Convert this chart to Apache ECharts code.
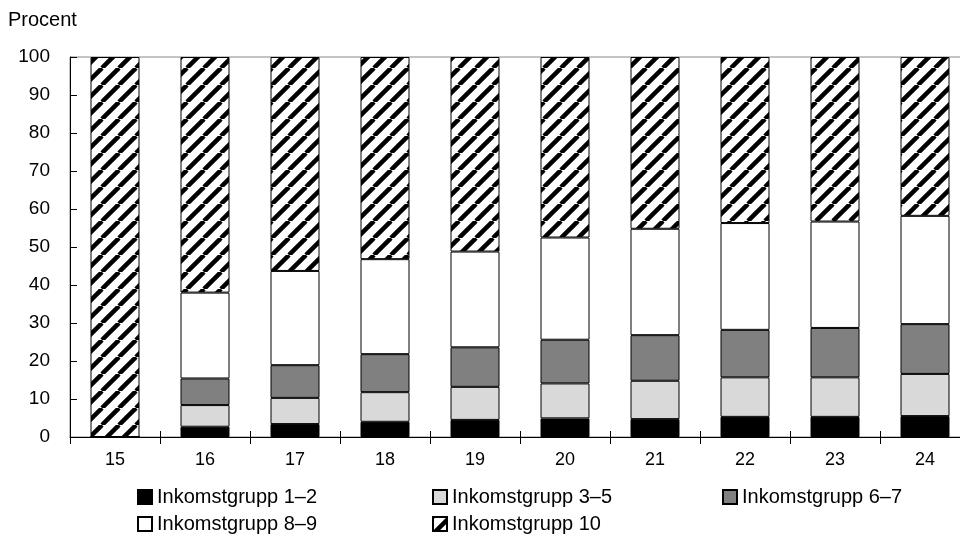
<!DOCTYPE html>
<html>
<head>
<meta charset="utf-8">
<script src="https://cdn.jsdelivr.net/npm/echarts@6/dist/echarts.min.js"></script>
<style>
html,body{margin:0;padding:0;background:#fff;overflow:hidden;width:960px;height:545px;}
#chart{width:971px;height:545px;}
</style>
</head>
<body>
<div id="chart"></div>
<script>
const categories = ['15','16','17','18','19','20','21','22','23','24'];
const seriesNames = ['Inkomstgrupp 1–2','Inkomstgrupp 3–5','Inkomstgrupp 6–7','Inkomstgrupp 8–9','Inkomstgrupp 10'];
const g12 = [0, 2.7, 3.4, 4.0, 4.5, 4.9, 4.7, 5.3, 5.3, 5.5];
const g35 = [0, 5.7, 6.9, 7.8, 8.7, 9.2, 10.1, 10.4, 10.4, 11.1];
const g67 = [0, 7.0, 8.6, 10.0, 10.4, 11.5, 12.0, 12.5, 13.0, 13.1];
const g89 = [0, 22.6, 24.8, 25.0, 25.2, 26.9, 28.0, 28.1, 28.0, 28.5];
const g10 = [100, 62.0, 56.3, 53.2, 51.2, 47.5, 45.2, 43.7, 43.3, 41.8];
const yTicks = [0,10,20,30,40,50,60,70,80,90,100];

const FONT = "'Liberation Sans', Arial, sans-serif";

function hatch() {
  const s = 17;
  const c = document.createElement('canvas');
  c.width = s; c.height = s;
  const ctx = c.getContext('2d');
  ctx.fillStyle = '#fff';
  ctx.fillRect(0, 0, s, s);
  ctx.strokeStyle = '#000';
  ctx.lineWidth = 4.5;
  for (let k = -1; k <= 1; k++) {
    ctx.beginPath();
    ctx.moveTo(k * s, s);
    ctx.lineTo(k * s + s, 0);
    ctx.stroke();
  }
  return c;
}

const fills = ['#000000', '#d9d9d9', '#808080', '#ffffff', { image: hatch(), repeat: 'repeat' }];
const data = [g12, g35, g67, g89, g10];

const chart = echarts.init(document.getElementById('chart'), null, { renderer: 'canvas' });

const legendPos = [
  { left: 137, top: 487 },
  { left: 432, top: 487 },
  { left: 722, top: 487 },
  { left: 137, top: 514 },
  { left: 432, top: 514 }
];

const option = {
  animation: false,
  backgroundColor: '#fff',
  textStyle: { fontFamily: FONT },
  title: {
    text: 'Procent', left: 8, top: 10, padding: 0,
    textStyle: { fontSize: 20, fontWeight: 'normal', color: '#000', fontFamily: FONT }
  },
  grid: { left: 70, top: 57, width: 900, height: 380, show: true, borderColor: '#888', borderWidth: 1, backgroundColor: 'transparent' },
  legend: seriesNames.map((n, i) => ({
    data: [n],
    left: legendPos[i].left, top: legendPos[i].top,
    padding: 0, itemWidth: 14, itemHeight: 14, icon: 'rect',
    textStyle: { fontSize: 20, color: '#000', fontFamily: FONT },
    selectedMode: false
  })),
  xAxis: [
    {
      type: 'category', data: categories,
      axisLine: { show: true, lineStyle: { color: '#000', width: 1 } },
      axisTick: { show: true, inside: false, length: 7, lineStyle: { color: '#000' } },
      axisLabel: { fontSize: 18, color: '#000', margin: 14, fontFamily: FONT },
      splitLine: { show: false }
    },
    {
      type: 'category', data: categories, position: 'bottom',
      axisLine: { show: false },
      axisTick: { show: true, inside: true, length: 6, lineStyle: { color: '#000' } },
      axisLabel: { show: false },
      splitLine: { show: false }
    }
  ],
  yAxis: {
    type: 'value', min: yTicks[0], max: yTicks[yTicks.length - 1], interval: 10,
    axisLine: { show: true, lineStyle: { color: '#000', width: 1 } },
    axisTick: { show: true, inside: true, length: 7, lineStyle: { color: '#000' } },
    axisLabel: { fontSize: 19, color: '#000', margin: 20, fontFamily: FONT },
    splitLine: { show: false }
  },
  series: seriesNames.map((n, i) => ({
    name: n, type: 'bar', stack: 'total', barWidth: 49,
    data: data[i],
    itemStyle: { color: fills[i], borderColor: '#000', borderWidth: 1 },
    emphasis: { disabled: true }
  }))
};
chart.setOption(option);
</script>
</body>
</html>
